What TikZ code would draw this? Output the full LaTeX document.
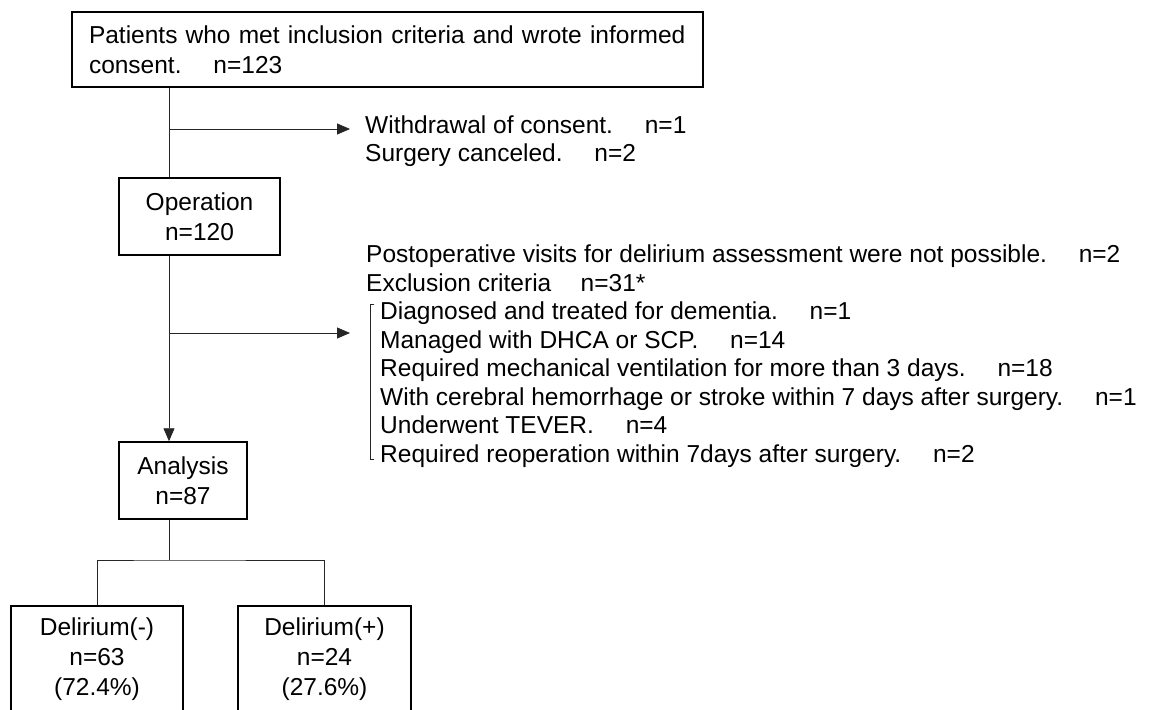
\documentclass[tikz,border=0pt]{standalone}
\usepackage{fontspec}
\setmainfont{Liberation Sans}
\usetikzlibrary{arrows.meta}
\newcommand{\gp}{\hspace{1.3em}}
\begin{document}
\begin{tikzpicture}[x=1pt,y=-1pt,
  box/.style={draw=black, line width=1.5pt, align=center, inner sep=0pt, font=\fontsize{24.5}{30}\selectfont},
  conn/.style={draw=black!85, line width=0.9pt},
  arr/.style={conn, -{Triangle[length=13pt,width=11pt]}},
  txt/.style={anchor=base west, inner sep=0pt, font=\fontsize{24.5}{28}\selectfont}]
\useasboundingbox (0,0) rectangle (1158,709);
\fill[white] (0,0) rectangle (1158,709);
% boxes
\node[box, minimum width=631pt, minimum height=75pt, text width=597pt, align=left] (top) at (387.5,49.5)
  {\raggedright Patients who met inclusion criteria and wrote informed\\consent.\gp n=123};
\node[box, minimum width=161pt, minimum height=77pt] (op) at (199.5,216.5) {Operation\\n=120};
\node[box, minimum width=128pt, minimum height=77pt] (an) at (183,480.5) {Analysis\\n=87};
\node[box, minimum width=172pt, minimum height=106pt] (dm) at (97,659) {Delirium(-)\\n=63\\(72.4\%)};
\node[box, minimum width=173pt, minimum height=106pt] (dp) at (324.5,659) {Delirium(+)\\n=24\\(27.6\%)};
% side texts
\node[txt] (w1) at (365,133.5) {Withdrawal of consent.\gp n=1};
\node[txt] (w2) at (365,161.5) {Surgery canceled.\gp n=2};
\node[txt] (p1) at (366,262.5) {Postoperative visits for delirium assessment were not possible.\gp n=2};
\node[txt] (p2) at (366,291) {Exclusion criteria\hspace{1.2em}n=31*};
\node[txt] (c1) at (380,319.5) {Diagnosed and treated for dementia.\gp n=1};
\node[txt] (c2) at (380,348) {Managed with DHCA or SCP.\gp n=14};
\node[txt] (c3) at (380,376.5) {Required mechanical ventilation for more than 3 days.\gp n=18};
\node[txt] (c4) at (380,405) {With cerebral hemorrhage or stroke within 7 days after surgery.\gp n=1};
\node[txt] (c5) at (380,433.5) {Underwent TEVER.\gp n=4};
\node[txt] (c6) at (380,462) {Required reoperation within 7days after surgery.\gp n=2};
% connectors
\coordinate (sx) at (169,0);
\coordinate (t1) at (350,129);
\coordinate (t2) at (350,333);
\coordinate (jn) at (169,560);
\draw[conn] (top.south -| sx) -- (op.north -| sx);
\draw[arr] (sx |- t1) -- (t1);
\draw[arr] (op.south -| sx) -- (an.north -| sx);
\draw[arr] (sx |- t2) -- (t2);
\draw[conn] (an.south -| sx) -- (jn);
\draw[conn] (dm.north) |- (jn) -| (dp.north);
% bracket
\coordinate (bt) at (370,304);
\coordinate (bb) at (370,459);
\draw[conn, line width=0.7pt] ([xshift=4pt]bt) -- (bt) -- (bb) -- ([xshift=4pt]bb);
\end{tikzpicture}
\end{document}
